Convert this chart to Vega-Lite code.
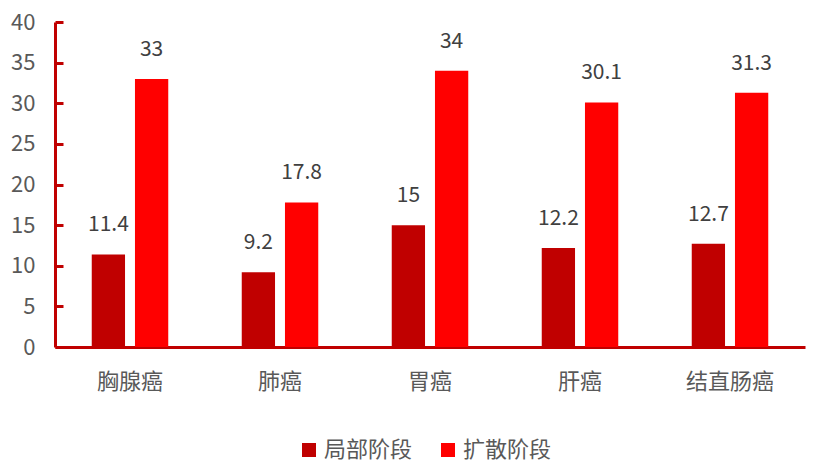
{
  "$schema": "https://vega.github.io/schema/vega-lite/v6.json",
  "autosize": "none",
  "width": 750,
  "height": 325,
  "padding": {"left": 55, "top": 22, "right": 11, "bottom": 121},
  "config": {"view": {"stroke": null}, "font": "Noto Sans CJK SC"},
  "data": {"values": [
    {"cancer": "胸腺癌", "stage": "局部阶段", "value": 11.4},
    {"cancer": "胸腺癌", "stage": "扩散阶段", "value": 33},
    {"cancer": "肺癌", "stage": "局部阶段", "value": 9.2},
    {"cancer": "肺癌", "stage": "扩散阶段", "value": 17.8},
    {"cancer": "胃癌", "stage": "局部阶段", "value": 15},
    {"cancer": "胃癌", "stage": "扩散阶段", "value": 34},
    {"cancer": "肝癌", "stage": "局部阶段", "value": 12.2},
    {"cancer": "肝癌", "stage": "扩散阶段", "value": 30.1},
    {"cancer": "结直肠癌", "stage": "局部阶段", "value": 12.7},
    {"cancer": "结直肠癌", "stage": "扩散阶段", "value": 31.3}
  ]},
  "encoding": {
    "x": {"field": "cancer", "type": "nominal", "sort": null,
      "scale": {"paddingInner": 0, "paddingOuter": 0},
      "axis": {"title": null, "labelAngle": 0, "ticks": false, "domainColor": "#C00000", "domainWidth": 3,
        "labelFontSize": 22, "labelColor": "#595959", "labelPadding": 24, "labelFont": "Noto Sans CJK SC"}},
    "xOffset": {"field": "stage", "type": "nominal", "sort": ["局部阶段", "扩散阶段"],
      "scale": {"paddingInner": 0.23, "paddingOuter": 0.85}},
    "y": {"field": "value", "type": "quantitative",
      "scale": {"domain": [0, 40], "nice": false},
      "axis": {"title": null, "values": [0,5,10,15,20,25,30,35,40], "grid": false, "domainColor": "#C00000", "domainWidth": 3,
        "tickColor": "#C00000", "tickWidth": 3, "tickSize": -8, "labelFontSize": 22, "labelColor": "#595959",
        "labelPadding": 28, "labelFont": "Noto Sans CJK SC"}}
  },
  "layer": [
    {"mark": {"type": "bar"},
     "encoding": {"color": {"field": "stage", "type": "nominal", "sort": ["局部阶段", "扩散阶段"],
       "scale": {"domain": ["局部阶段", "扩散阶段"], "range": ["#C00000", "#FF0000"]},
       "legend": {"title": null, "orient": "none", "legendX": 243, "legendY": 417, "direction": "horizontal",
         "symbolType": "square", "symbolSize": 196, "symbolStrokeWidth": 0, "labelFontSize": 22, "labelColor": "#595959",
         "labelFont": "Noto Sans CJK SC", "columnPadding": 24, "labelOffset": 4}}}},
    {"mark": {"type": "text", "baseline": "middle", "dy": -29, "fontSize": 21, "color": "#404040"},
     "encoding": {"text": {"field": "value", "type": "quantitative"}}}
  ]
}
